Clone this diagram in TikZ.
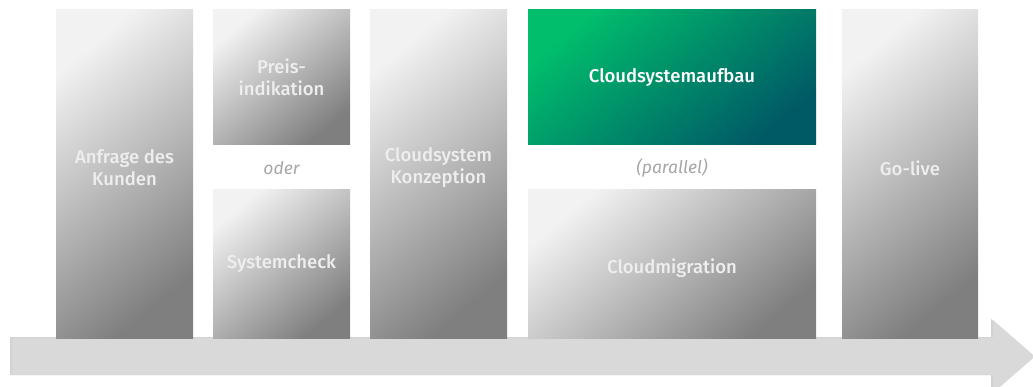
\documentclass[tikz,border=0pt]{standalone}
\usepackage{fontspec}
\setmainfont{Fira Sans}[UprightFont={* Medium},ItalicFont={* Italic}]
\usepackage{xcolor}
\definecolor{boxlight}{HTML}{F2F2F2}
\definecolor{boxdark}{HTML}{7F7F7F}
\definecolor{greenlight}{HTML}{00BE6C}
\definecolor{greendark}{HTML}{005A66}
\definecolor{arrowgray}{HTML}{D9D9D9}
\definecolor{notegray}{HTML}{A6A6A6}
\definecolor{labelgray}{HTML}{EEEEEE}

\begin{document}
\begin{tikzpicture}[x=1pt,y=-1pt,
	graybox/.style={shade,top color=boxlight,bottom color=boxdark,shading angle=40,inner sep=0pt},
	greenbox/.style={shade,top color=greenlight,bottom color=greendark,shading angle=40,inner sep=0pt},
	boxlabel/.style={text=labelgray,align=center,font=\fontsize{18.5}{22}\selectfont},
	note/.style={text=notegray,font=\fontsize{17.5}{22}\selectfont\itshape}]
	\useasboundingbox (0,0) rectangle (1033,387);
	\clip (0,0) rectangle (1033,387);
	% time arrow
	\fill[gray!35] (10,337) -- (991,337) -- (991,319) -- (1033,356.5) -- (991,393) -- (991,375) -- (10,375) -- cycle;
	\fill[arrowgray] (12,338) -- (993,338) -- (993,320) -- (1035,356.5) -- (993,393) -- (993,375) -- (12,375) -- cycle;
	% steps
	\node[graybox,minimum width=137pt,minimum height=328pt] (anfrage) at (124.5,174) {};
	\node[graybox,minimum width=137pt,minimum height=135pt] (preis) at (281.5,77.5) {};
	\node[graybox,minimum width=137pt,minimum height=148pt] (check) at (281.5,264) {};
	\node[graybox,minimum width=137pt,minimum height=328pt] (konzept) at (438.5,174) {};
	\node[greenbox,minimum width=288pt,minimum height=135pt] (aufbau) at (672,77.5) {};
	\node[graybox,minimum width=288pt,minimum height=148pt] (migration) at (672,264) {};
	\node[graybox,minimum width=136pt,minimum height=328pt] (golive) at (910,174) {};
	% labels
	\node[boxlabel] (anfragetext) at ([yshift=6pt]anfrage.center) {Anfrage des\\Kunden};
	\node[boxlabel] (preistext) at (preis.center) {Preis-\\indikation};
	\node[boxlabel] (checktext) at (check.center) {Systemcheck};
	\node[boxlabel] (konzepttext) at ([yshift=6pt]konzept.center) {Cloudsystem\\Konzeption};
	\node[boxlabel,text=white] (aufbautext) at (aufbau.center) {Cloudsystemaufbau};
	\node[boxlabel] (migrationtext) at ([yshift=-4pt]migration.center) {Cloudmigration};
	\node[boxlabel] (golivetext) at ([yshift=6pt]golive.center) {Go-live};
	\node[note] (oder) at (281.5,168) {oder};
	\node[note] (parallel) at (672,168) {(parallel)};
\end{tikzpicture}
\end{document}
